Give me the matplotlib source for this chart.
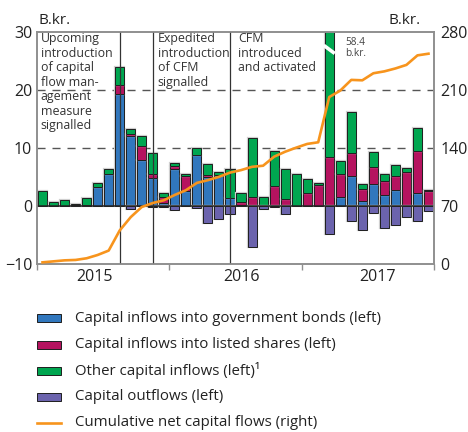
import numpy as np
import matplotlib
matplotlib.use("Agg")
import matplotlib.pyplot as plt
from matplotlib.patches import Rectangle
from matplotlib.lines import Line2D
import matplotlib.patheffects as pe

plt.rcParams['font.family'] = ['Open Sans', 'DejaVu Sans']

# monthly flows, Jan 2015 - Dec 2017 (b.kr., left axis)
gov_bonds = [0, 0, 0, 0, 0, 3.25, 5.6, 19.3, 12.1, 8.0, 4.75, 0.5,
             6.3, 2.6, 8.8, 5.0, 5.4, 1.45, 0.25, 0, 0, 0, 0, 0,
             0, 0, 0, 1.5, 5.1, 0.8, 3.75, 1.9, 2.7, 0, 2.3, 0]
listed_shares = [0, 0, 0, 0.15, 0.25, 0, 0, 1.6, 0.4, 2.4, 0.7, 1.05,
                 0.6, 2.5, 0, 0.4, 0, 0, 0.45, 1.6, 0, 3.5, 1.15, 0,
                 2.25, 3.7, 8.5, 4.1, 4.0, 2.2, 3.05, 2.4, 2.55, 5.85, 7.25, 2.55]
other_inflows = [2.55, 0.75, 1.1, 0.25, 1.1, 0.65, 0.75, 3.1, 0.85, 1.6, 3.7, 0.75,
                 0.6, 0.5, 1.15, 1.8, 0.4, 4.9, 1.55, 10.2, 1.6, 5.9, 5.15, 5.6,
                 2.35, 0.35, 49.9, 2.1, 7.1, 0.75, 2.55, 1.2, 1.75, 0.7, 3.9, 0.25]
outflows = [0, 0, 0, 0, 0, 0, 0, 0, -0.5, 0, -0.2, -0.2,
            -0.75, 0, -0.3, -2.9, -2.2, -1.45, 0, -7.05, -0.45, -0.15, -1.3, 0,
            0, 0, -4.85, 0, -2.6, -4.15, -1.2, -3.75, -3.25, -1.85, -2.5, -0.85]
# cumulative net capital flows (b.kr., right axis)
cumulative = [2.0, 3.2, 4.4, 4.9, 6.9, 10.9, 16.2, 40.5, 56.6, 68.8, 73.6, 76.9,
              83.4, 89.0, 97.9, 101.2, 105.2, 110.3, 113.3, 117.3, 118.6, 129.5, 135.5, 140.4,
              144.9, 146.9, 201.5, 209.3, 222.2, 221.7, 230.2, 232.5, 236.0, 240.3, 251.8, 253.8]

years = ['2015', '2016', '2017']
year_label_x = [4.73, 18.06, 30.4]
left_ticks = [-10, 0, 10, 20, 30]
right_ticks = [0, 70, 140, 210, 280]

event_months = [7, 10, 17]
event_texts = ['Upcoming\nintroduction\nof capital\nflow man-\nagement\nmeasure\nsignalled',
               'Expedited\nintroduction\nof CFM\nsignalled',
               'CFM\nintroduced\nand activated']
event_text_x = [-0.16, 10.44, 17.75]

legend_labels = ['Capital inflows into government bonds (left)',
                 'Capital inflows into listed shares (left)',
                 'Other capital inflows (left)\u00b9',
                 'Capital outflows (left)',
                 'Cumulative net capital flows (right)']

c_blue = '#3177bd'
c_red = '#b5135f'
c_green = '#00a650'
c_purple = '#6b63ad'
c_orange = '#f7941d'
edge = '#1e1e1e'
grey = '#8f8f8f'

W, H = 468, 432
fig = plt.figure(figsize=(W / 100, H / 100), dpi=100)
ax = fig.add_axes([37 / W, 1 - 264 / H, 397 / W, 232 / H])

x = np.arange(len(gov_bonds))
gb = np.array(gov_bonds)
ls = np.array(listed_shares)
oi = np.array(other_inflows)
halo = [pe.withStroke(linewidth=1.6, foreground='#cfcfcf')]
bw = 0.82
kw = dict(width=bw, edgecolor=edge, linewidth=0.7, zorder=2)
for vals, bottom, col in [(gb, 0, c_blue), (ls, gb, c_red), (oi, gb + ls, c_green)]:
    bars = ax.bar(x, vals, bottom=bottom, color=col, **kw)
    for b, v in zip(bars, vals):
        if v == 0:
            b.set_visible(False)
        else:
            b.set_path_effects(halo)
out_bars = ax.bar(x, outflows, color=c_purple, **kw)
for b, v in zip(out_bars, outflows):
    if v == 0:
        b.set_visible(False)
    else:
        b.set_path_effects(halo)

# break mark on the clipped bar
big = int(np.argmax(oi))
ax.plot([big - 0.5, big + 0.5], [27.7, 26.3], color='white', lw=2.6, zorder=3,
        solid_capstyle='butt')
ax.text(big + 1.42, 29.2, '58.4\nb.kr.', fontsize=7.3, color='#444444', va='top',
        ha='left', linespacing=1.05)

ax.axhline(0, color='#222222', lw=1.1, zorder=3)
for yv in (10, 20):
    ax.axhline(yv, color='#555555', lw=1.0, dashes=(5.8, 5.0), zorder=1)
for m in event_months:
    ax.axvline(m, color='#333333', lw=0.9, zorder=4)
for tx, t in zip(event_text_x, event_texts):
    ax.text(tx, 29.95, t, fontsize=8.9, color='#333333', va='top', ha='left',
            linespacing=1.15, zorder=5)

ax.set_xlim(-0.5, len(x) - 0.5)
ax.set_ylim(-10, 30)
ax.set_yticks(left_ticks)
ax.set_xticks([-0.5, 11.5, 23.5, 35.5])
ax.set_xticklabels([])
ax.tick_params(axis='x', direction='out', length=4, width=1, color=grey)
ax.tick_params(axis='y', length=0, pad=3.5, labelsize=11.5, labelcolor='#222222')
for s in ax.spines.values():
    s.set_color(grey)
    s.set_linewidth(1.2)
for yl, lab in zip(year_label_x, years):
    ax.text(yl, -0.058, lab, transform=ax.get_xaxis_transform(), ha='center',
            va='center', fontsize=11.5, color='#222222')

ax2 = ax.twinx()
ax2.plot(x, cumulative, color=c_orange, lw=1.9, zorder=6)
ax2.set_ylim(0, 280)
ax2.set_yticks(right_ticks)
ax2.tick_params(axis='y', length=0, pad=4.5, labelsize=11.5, labelcolor='#222222')
for s in ax2.spines.values():
    s.set_color(grey)
    s.set_linewidth(1.2)

fig.text(38 / W, 1 - 20 / H, 'B.kr.', fontsize=11, color='#222222', va='center', ha='left')
fig.text(421 / W, 1 - 20 / H, 'B.kr.', fontsize=11, color='#222222', va='center', ha='right')

# legend below the chart
leg_colors = [c_blue, c_red, c_green, c_purple]
row_y = [318, 344.5, 370.5, 396.5, 423]
for i, lab in enumerate(legend_labels):
    yc = 1 - row_y[i] / H
    if i < 4:
        fig.add_artist(Rectangle((37 / W, yc - 4 / H), 24 / W, 8 / H,
                                 transform=fig.transFigure, facecolor=leg_colors[i],
                                 edgecolor=edge, linewidth=0.7))
    else:
        fig.add_artist(Line2D([37 / W, 61 / W], [yc, yc], transform=fig.transFigure,
                              color=c_orange, lw=1.9))
    fig.text(75 / W, yc, lab, fontsize=10.8, color='#222222', va='center', ha='left')

fig.savefig('out.png', dpi=100)
